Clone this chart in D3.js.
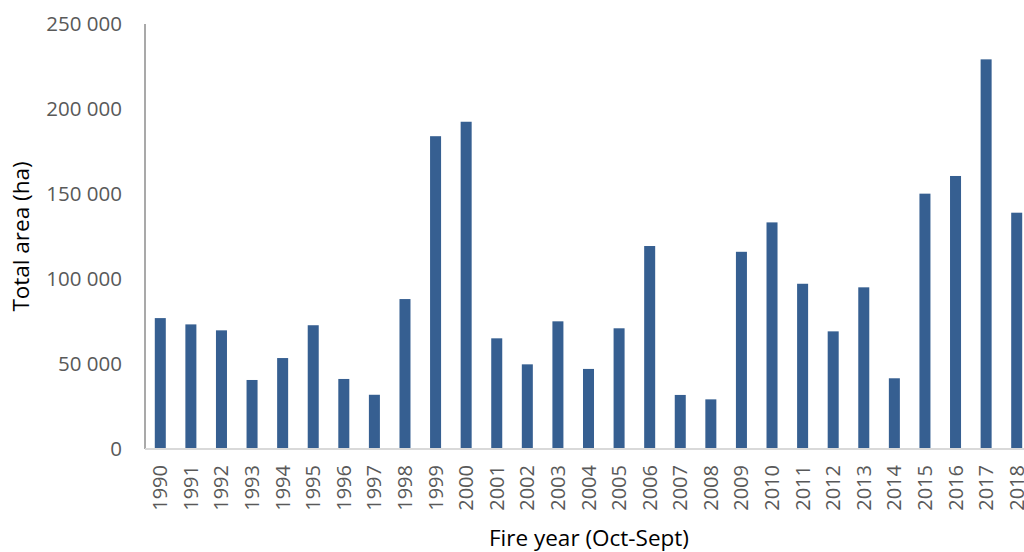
<html>

<head>
  <script src="https://d3js.org/d3.v7.min.js"></script>
  <style>
    body {
      margin: 0;
      background: #fff;
    }

    text {
      font-family: "Open Sans", sans-serif;
    }
  </style>
</head>

<body>
  <svg width="1024" height="552" id="barchart"></svg>
  <script>
    const years = ["1990", "1991", "1992", "1993", "1994", "1995", "1996", "1997", "1998", "1999",
      "2000", "2001", "2002", "2003", "2004", "2005", "2006", "2007", "2008", "2009",
      "2010", "2011", "2012", "2013", "2014", "2015", "2016", "2017", "2018"];
    const totalArea = [77000, 73300, 69800, 40600, 53500, 72800, 41200, 31900, 88200, 184000,
      192500, 65100, 49800, 75100, 47100, 71000, 119400, 31800, 29200, 116000,
      133300, 97200, 69200, 95100, 41600, 150200, 160600, 229200, 139000];
    const yTicks = [0, 50000, 100000, 150000, 200000, 250000];

    const svg = d3.select("svg#barchart");
    const margins = { top: 24, left: 145, bottom: 449, right: 1032 };

    const yScale = d3.scaleLinear().domain([0, 250000]).range([margins.bottom, margins.top]);
    const xScale = d3.scaleBand().domain(years).range([margins.left, margins.right])
      .paddingInner(0.64).paddingOuter(0.32);

    // thousands separated by a space
    const fmt = v => d3.format(",")(v).replace(/,/g, " ");

    // y tick labels, no tick marks
    const yAxis = svg.append("g")
      .attr("class", "y axis")
      .attr("transform", `translate(${margins.left - 23},0)`)
      .call(d3.axisLeft(yScale).tickValues(yTicks).tickFormat(fmt).tickSize(0).tickPadding(0));
    yAxis.select(".domain").remove();
    yAxis.selectAll("text")
      .attr("fill", "#595959")
      .style("font-size", "20.5px");

    // bars
    svg.append("g").selectAll("rect.bar")
      .data(years)
      .join("rect")
      .attr("class", "bar")
      .attr("fill", "#365f91")
      .attr("x", d => xScale(d))
      .attr("y", (d, i) => yScale(totalArea[i]))
      .attr("width", xScale.bandwidth())
      .attr("height", (d, i) => yScale(0) - yScale(totalArea[i]));

    // axis lines
    svg.append("line")
      .attr("x1", margins.left).attr("x2", margins.left)
      .attr("y1", margins.top).attr("y2", margins.bottom)
      .attr("stroke", "#8c8c8c").attr("stroke-width", 1.5);
    svg.append("line")
      .attr("x1", margins.left).attr("x2", margins.right)
      .attr("y1", margins.bottom).attr("y2", margins.bottom)
      .attr("stroke", "#d9d9d9").attr("stroke-width", 2);

    // x tick labels, rotated
    const xAxis = svg.append("g")
      .attr("class", "x axis")
      .attr("transform", `translate(0,${margins.bottom + 16})`)
      .call(d3.axisBottom(xScale).tickSize(0).tickPadding(0));
    xAxis.select(".domain").remove();
    xAxis.selectAll("text")
      .attr("fill", "#595959")
      .style("font-size", "20px")
      .attr("text-anchor", "end")
      .attr("transform", "rotate(-90)")
      .attr("x", 0)
      .attr("y", 0)
      .attr("dy", "0.35em");

    // axis titles
    svg.append("text")
      .attr("x", 589)
      .attr("y", 546)
      .attr("text-anchor", "middle")
      .attr("fill", "#000")
      .style("font-size", "22.5px")
      .text("Fire year (Oct-Sept)");

    svg.append("text")
      .attr("transform", `translate(29,${(margins.top + margins.bottom) / 2}) rotate(-90)`)
      .attr("text-anchor", "middle")
      .attr("fill", "#000")
      .style("font-size", "22.5px")
      .text("Total area (ha)");
  </script>
</body>

</html>
